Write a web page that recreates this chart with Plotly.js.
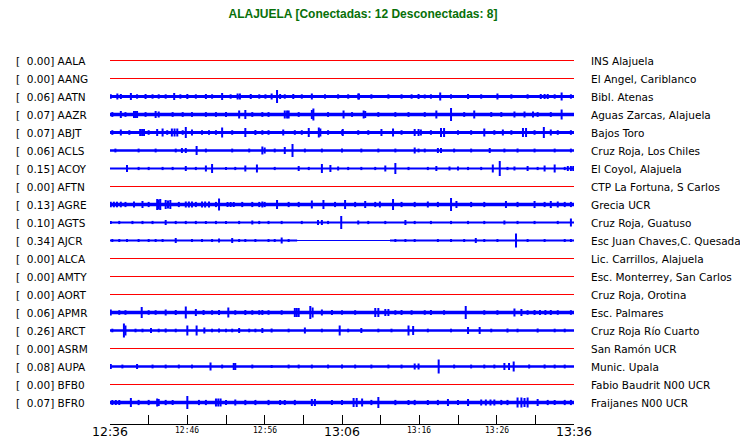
<!DOCTYPE html>
<html>
<head>
<meta charset="utf-8">
<script src="https://cdn.plot.ly/plotly-3.0.1.min.js"></script>
<style>html,body{margin:0;padding:0;background:#fff;}#chart{width:740px;height:438px;}</style>
</head>
<body>
<div id="chart"></div>
<script>
// ---- data ----
const region = "ALAJUELA";
const stations = ["AALA","AANG","AATN","AAZR","ABJT","ACLS","ACOY","AFTN","AGRE","AGTS",
                  "AJCR","ALCA","AMTY","AORT","APMR","ARCT","ASRM","AUPA","BFB0","BFR0"];
const levels = [0.00,0.00,0.06,0.07,0.07,0.06,0.15,0.00,0.13,0.10,
                0.34,0.00,0.00,0.00,0.06,0.26,0.00,0.08,0.00,0.07];
const places = ["INS Alajuela","El Angel, Cariblanco","Bibl. Atenas","Aguas Zarcas, Alajuela","Bajos Toro",
                "Cruz Roja, Los Chiles","El Coyol, Alajuela","CTP La Fortuna, S Carlos","Grecia UCR","Cruz Roja, Guatuso",
                "Esc Juan Chaves,C. Quesada","Lic. Carrillos, Alajuela","Esc. Monterrey, San Carlos","Cruz Roja, Orotina","Esc. Palmares",
                "Cruz Roja Río Cuarto","San Ramón UCR","Munic. Upala","Fabio Baudrit N00 UCR","Fraijanes N00 UCR"];
// minutes after 12:36
const tickMinutes = [0,5,10,15,20,25,30,35,40,45,50,55,60];
const majorTickMinutes = [0,30,60];
const majorTickLabels = ["12:36","13:06","13:36"];
const minorTickMinutes = [10,20,40,50];
const minorTickLabels = ["12:46","12:56","13:16","13:26"];
// background noise half-amplitude of each trace (pixels of trace gain)
const noise = [0,0,1.5,1.7,1.5,1.35,1.0,0,1.85,1.0,1.0,0,0,0,1.65,1.25,0,1.35,0,1.85];
// events: [minute, half-amplitude]
const ev_AATN = [[0.95,3],[1.4,2.5],[2.7,3.5],[4.6,2.5],[8.3,3.5],[10,2.5],[12.4,2.5],[14.5,3.5],[16.5,3],[16.8,3],[18.2,2.5],
  [20.9,3],[21.6,6.5],[22,2.5],[23.7,2.5],[26.1,3],[32.1,3],[32.2,3],[39.9,2.5],[40.7,2],[42.7,4],[46.3,2.5],[50.1,3],[55.7,2.5],[56.2,2.5],[56.6,2.5],[58.4,4],
  [0.1,2.2],[3.5,2.2],[5.5,2.2],[6.3,2.2],[7.2,2.2],[9.1,2.2],[11.1,2.2],[13.2,2.2],[15.6,2.2],[19.3,2.2],
  [20.1,2.2],[22.6,2.2],[24.8,2.2],[27.8,2.2],[29.5,2.2],[30.8,2.2],[33.8,2.2],[36,2.2],[37.7,2.2],[39,2.2],
  [41.5,2.2],[44.1,2.2],[48,2.2],[51.9,2.2],[54,2.2],[57.5,2.2],[59.6,2.2]];
const ev_AAZR = [[1.4,3.5],[3.1,3.5],[3.3,3.5],[3.5,3.5],[5.9,3.5],[6.3,3],[16.7,4],[17.5,4.5],
  [22.6,4],[22.9,4],[23.1,4],[26.1,4.5],[26.3,6],[30.2,4],[32.8,4],[33.0,3.5],[42.2,4],[44.1,6.5],[47.1,4],[52.3,3],[53.6,3],[54.7,3],[58.4,5],
  [0.3,2.4],[2.0,2.4],[4.6,2.4],[8.1,2.4],[9.4,2.4],[10.6,2.4],[12.4,2.4],[13.7,2.4],[15,2.4],[18.4,2.4],[19.7,2.4],
  [20.5,2.4],[24.4,2.4],[28.2,2.4],[31.3,2.4],[34.7,2.4],[36.9,2.4],[38.6,2.4],
  [40.7,2.4],[45.8,2.4],[49.3,2.4],[50.6,2.4],[55.3,2.4],[57,2.4]];
const ev_ABJT = [[1.4,3],[3.9,3.5],[4.15,3.5],[4.4,3.5],[6.1,3.5],[6.8,4],[8.0,4],[8.35,4],[8.7,4],[9.8,5.5],[10.6,3],[14.5,5],[17.5,4.5],[18.8,2.5],
  [22.4,3],[25.7,4.5],[27.0,5],[27.2,4],[30.1,3.5],[35.1,3.5],[36.6,4],[39.4,3.5],[39.9,3.5],
  [40.2,3],[42.8,4.5],[43.2,4.5],[48.4,4],[50.8,3],[53.4,4.5],[53.8,4.5],[56.1,5.5],[57,3],
  [0.3,2.3],[2.5,2.3],[5.0,2.3],[7.4,2.3],[9.4,2.3],[11.9,2.3],[12.8,2.3],[13.7,2.3],[15.8,2.3],[19.7,2.3],
  [20.5,2.3],[23.9,2.3],[24.8,2.3],[28.2,2.3],[30,2.3],[32.1,2.3],[33.4,2.3],[37.7,2.3],
  [41.5,2.3],[45,2.3],[46.7,2.3],[49.7,2.3],[51.9,2.3],[54.9,2.3],[57.9,2.3],[59.6,2.3]];
const ev_ACLS = [[9.3,2.5],[9.8,2.5],[11.2,4.5],[19.7,4],[20,3],[22.6,3.5],[23.6,6.5],[39.4,3],[42.4,2.5],[42.8,2.5],[49.1,2.5],[52.7,2],
  [0.7,1.9],[3.7,1.9],[5.9,1.9],[8.5,1.9],[12.4,1.9],[15.8,1.9],[18,1.9],
  [21.3,1.9],[25.2,1.9],[27.4,1.9],[30,1.9],[32.5,1.9],[34.7,1.9],[36.9,1.9],[39.9,1.9],
  [40.7,1.9],[44.5,1.9],[46.7,1.9],[51,1.9],[54.9,1.9],[57.5,1.9],[59.6,1.9]];
const ev_ACOY = [[2.2,3.5],[9.8,2.5],[12.4,3],[13.2,4.5],[17.5,3],[19,4],[24.4,2.5],[27.4,4.5],[28.5,3.5],[29.5,2],[35.6,3],[36.9,5.5],
  [42.2,2.5],[43.9,2],[45,2],[49.5,4],[50.4,7.5],[52.3,2],[54,2.5],[56.2,3],[57.5,4],[59.6,2.5],[59.2,2.5],[59.9,2.5],
  [3.7,1.6],[5,1.6],[6.8,1.6],[8.1,1.6],[11.1,1.6],[15,1.6],[16.2,1.6],
  [21.3,1.6],[25.7,1.6],[30.8,1.6],[32.5,1.6],[34.3,1.6],[38.6,1.6],
  [41.1,1.6],[46.3,1.6],[48,1.6],[51.4,1.6],[55.3,1.6],[58.8,1.6]];
const ev_AGRE = [[0.1,2.8],[0.5,2.8],[0.9,2.8],[1.4,2.8],[3.1,3],[4.2,3.5],[6.1,5.5],[6.3,5],[6.5,5.5],[7.2,4.5],[7.5,4],[7.8,4.5],[9.8,3],[10.2,3],[10.6,3],
  [11.9,3],[12.3,3],[12.8,3],[14.1,6],[15.2,2.5],[15.6,2.5],[16,2.5],[19.7,3],
  [21.6,4.5],[26.1,4],[27.6,4.5],[30.4,4.5],[33,3.5],[34.9,3],[36.6,5.5],[41.1,3],[44.1,6.5],[44.8,3.5],[51.2,3.5],[54.9,3.5],[57,3.5],[57.9,3],
  [2,2.6],[5,2.6],[8.9,2.6],[11.1,2.6],[13.7,2.6],[17.1,2.6],[18.4,2.6],[19.3,2.6],
  [20,2.6],[23.1,2.6],[24.4,2.6],[29.1,2.6],[31.7,2.6],[34.3,2.6],[37.7,2.6],[39.4,2.6],
  [42.4,2.6],[46.7,2.6],[48.4,2.6],[52.7,2.6],[56.2,2.6],[58.8,2.6],[59.6,2.6]];
const ev_AGTS = [[0.1,1.5],[7.2,2.5],[12.4,1.5],[18.4,2],[26.9,2.5],[27.4,2.5],[29.9,6.5],[32.1,2],[38.2,2.5],[51,2],[59.6,4],
  [1.2,1.6],[2.9,1.6],[4.2,1.6],[5.5,1.6],[8.5,1.6],[9.8,1.6],[11.1,1.6],[13.7,1.6],[15,1.6],[16.7,1.6],[19.3,1.6],
  [20.5,1.6],[22.2,1.6],[24.8,1.6],[28.2,1.6],[33.4,1.6],[35.6,1.6],[39.4,1.6],
  [41.5,1.6],[44.1,1.6],[46.3,1.6],[48.4,1.6],[52.7,1.6],[54.9,1.6],[57.9,1.6]];
const ev_AJCR = [[2.2,1.5],[5.9,1.5],[8.5,2.5],[14.1,2],[15.8,2.5],[18.8,1.5],[22.2,3],[47.3,2.5],[52.5,7],[58.8,1.5],
  [0.3,1.5],[1.2,1.5],[3.7,1.5],[5,1.5],[6.8,1.5],[10.6,1.5],[11.9,1.5],[13.2,1.5],[16.7,1.5],[17.5,1.5],
  [20.5,1.5],[21.3,1.5],[23.1,1.5],[36.9,1.5],[38.2,1.5],[39.4,1.5],
  [42.4,1.5],[44.1,1.5],[45.8,1.5],[48.4,1.5],[50.1,1.5],[54,1.5],[56.2,1.5],[59.6,1.5]];
const quiet_AJCR = [[24.2,36.2]];
const ev_APMR = [[0.1,3],[4.1,5.5],[7.2,3],[8.5,2.5],[9.8,6],[11.1,3.5],[12.1,2.5],[14.1,2.5],[15.3,5],[17.5,2.5],[19.7,2.5],
  [23.9,4.5],[24.15,4.5],[24.4,4.5],[25.9,6.5],[26.2,5],[27.4,3],[28.7,2.5],[34.3,4.5],[34.7,4.5],[35.6,3.5],[36,3.5],[37.7,2.5],
  [41.5,2.5],[46,6.5],[52.3,4],[53.2,3.5],[54.9,2.5],[55.6,2.5],[56.3,2.5],[57,2.5],
  [1.2,2.3],[2,2.3],[5,2.3],[5.9,2.3],[13.2,2.3],[16.2,2.3],[18.4,2.3],[19.3,2.3],
  [20.5,2.3],[22.2,2.3],[30,2.3],[31.7,2.3],[36.9,2.3],[39,2.3],
  [40.7,2.3],[43.2,2.3],[48.4,2.3],[50.1,2.3],[54,2.3],[57.9,2.3],[59.6,2.3]];
const ev_ARCT = [[1.8,7],[2.0,5],[5.3,2.5],[7.2,2],[10,5],[11.2,5],[12.2,3],[14.1,2],[16.7,2.5],[19.7,2.5],
  [20.9,2],[25.2,3],[29.7,5],[32.5,2.5],[38.6,5],[39.2,4.5],[46.3,3.5],[47.8,3.5],[51.4,2],[55.3,2],
  [0.3,1.8],[3.3,1.8],[4.2,1.8],[6.3,1.8],[8.5,1.8],[13.2,1.8],[15,1.8],[15.8,1.8],[18,1.8],[18.8,1.8],
  [23.1,1.8],[27.4,1.8],[30.8,1.8],[34.7,1.8],[36.4,1.8],
  [41.1,1.8],[44.1,1.8],[49.3,1.8],[52.7,1.8],[57.5,1.8],[58.8,1.8]];
const ev_AUPA = [[0.1,2.5],[3.5,2.5],[13,4],[16,3.5],[16.2,3.5],[20.9,1.5],[30,2],[39.4,3],[39.9,3],
  [42.5,7],[51,3.5],[51.6,3.5],[52.2,5],[54.2,2],[56.2,2],
  [1.6,1.9],[5.5,1.9],[7.2,1.9],[8.9,1.9],[10.6,1.9],[14.5,1.9],[18.4,1.9],
  [23.1,1.9],[24.4,1.9],[26.1,1.9],[28.2,1.9],[31.7,1.9],[33.8,1.9],[36,1.9],[37.7,1.9],
  [44.5,1.9],[46.7,1.9],[48.4,1.9],[49.7,1.9],[57.5,1.9],[58.8,1.9]];
const ev_BFR0 = [[0.3,2.5],[0.75,2.5],[1.2,2.5],[2.7,4.5],[6.1,4],[6.3,3.5],[8.1,2.5],[10,6.5],[13.7,4],[14.0,4],[14.3,4],[16.2,3],
  [22,2.5],[22.6,2.5],[26.1,3.5],[26.5,3.5],[28.7,2.5],[31.5,4.5],[31.9,4.5],[32.6,4],[34.7,5.5],[38.6,2.5],
  [41.1,2.5],[43.7,3.5],[46.3,3.5],[48,3],[48.6,3],[49.2,3],[49.7,3],[52.7,5],[53.2,5],[53.6,4.5],[54,5],[55.3,3.5],[57.5,2.5],
  [3.7,2.6],[5,2.6],[7.2,2.6],[11.5,2.6],[12.4,2.6],[15,2.6],[17.5,2.6],[18.8,2.6],
  [20.5,2.6],[23.9,2.6],[30,2.6],[33.8,2.6],[36.9,2.6],[39.4,2.6],
  [42.4,2.6],[45,2.6],[50.6,2.6],[51.4,2.6],[56.6,2.6],[58.8,2.6],[59.6,2.6]];
const eventsByStation = {AATN:ev_AATN,AAZR:ev_AAZR,ABJT:ev_ABJT,ACLS:ev_ACLS,ACOY:ev_ACOY,AGRE:ev_AGRE,
  AGTS:ev_AGTS,AJCR:ev_AJCR,APMR:ev_APMR,ARCT:ev_ARCT,AUPA:ev_AUPA,BFR0:ev_BFR0};
const quietByStation = {AJCR:quiet_AJCR};

// ---- drawing ----
const T0 = 0, T1 = 60;
const rowPx = 18;                 // pixels between rows
const gain = 1 / rowPx;           // trace pixel amplitude -> row units
const traces = [];
const annotations = [];
const nConnected = levels.filter(v => v > 0).length;
const nDisconnected = levels.length - nConnected;
const labelFont = {family: "DejaVu Sans", size: 10.5, color: "#000"};

stations.forEach((st, i) => {
  const y0 = -i;
  const on = levels[i] > 0;
  if (!on) {
    traces.push({type: "scatter", mode: "lines", x: [T0, T1], y: [y0, y0],
      line: {color: "#ff0000", width: 1}, hoverinfo: "skip"});
  } else {
    traces.push({type: "scatter", mode: "lines", x: [T0, T1], y: [y0, y0],
      line: {color: "#0000ff", width: 1}, hoverinfo: "skip"});
    const quiet = quietByStation[st] || [];
    let bx = [], by = [], start = T0;
    quiet.forEach(q => { bx.push(start, q[0], null); by.push(y0, y0, null); start = q[1]; });
    bx.push(start, T1); by.push(y0, y0);
    traces.push({type: "scatter", mode: "lines", x: bx, y: by,
      line: {color: "#0000ff", width: 2 * noise[i]}, hoverinfo: "skip"});
    const ev = eventsByStation[st] || [];
    const ex = [], ey = [];
    ev.forEach(e => { ex.push(e[0], e[0], null); ey.push(y0 - e[1] * gain, y0 + e[1] * gain, null); });
    traces.push({type: "scatter", mode: "lines", x: ex, y: ey,
      line: {color: "#0000ff", width: 2}, hoverinfo: "skip"});
  }
  annotations.push({xref: "paper", yref: "y", x: (15 - 110) / 464, y: y0, xanchor: "left", yanchor: "middle",
    text: "[\u00a0\u00a0" + levels[i].toFixed(2) + "]\u00a0" + st, showarrow: false, font: labelFont, borderpad: 0});
  annotations.push({xref: "paper", yref: "y", x: (590 - 110) / 464, y: y0, xanchor: "left", yanchor: "middle",
    text: places[i], showarrow: false, font: labelFont, borderpad: 0});
});

majorTickMinutes.forEach((m, k) => annotations.push({xref: "x", yref: "paper", x: m, y: -0.02, xanchor: "center", yanchor: "middle",
  text: majorTickLabels[k], showarrow: false, borderpad: 0, font: {family: "DejaVu Sans", size: 12.5, color: "#000"}}));
minorTickMinutes.forEach((m, k) => annotations.push({xref: "x", yref: "paper", x: m, y: -0.018, xanchor: "center", yanchor: "middle",
  text: minorTickLabels[k], showarrow: false, borderpad: 0, font: {family: "DejaVu Sans Mono", size: 8, color: "#000"}}));

// row i centred on pixel 60.5 + 18*i inside a plot area spanning pixels 40..424
const yTop = 20.5 / rowPx, ySpan = 384 / rowPx;
const layout = {
  width: 740, height: 438,
  margin: {l: 110, r: 166, t: 40, b: 14, pad: 0},
  paper_bgcolor: "#fff", plot_bgcolor: "#fff",
  showlegend: false,
  title: {text: region + " [Conectadas: " + nConnected + " Desconectadas: " + nDisconnected + "]",
    font: {family: "Liberation Sans Narrow, Arial Narrow, Liberation Sans", size: 12, color: "#087008", weight: "bold"},
    x: 363 / 740, xanchor: "center", xref: "container", y: 1 - 14 / 438, yanchor: "middle", yref: "container"},
  xaxis: {range: [T0, T1], showgrid: false, zeroline: false, showline: true, linecolor: "#000", linewidth: 1,
    ticks: "inside", ticklen: 9, tickwidth: 1, tickcolor: "#000", tickvals: tickMinutes, showticklabels: false, fixedrange: true},
  yaxis: {range: [yTop - ySpan, yTop], visible: false, showgrid: false, zeroline: false, fixedrange: true},
  annotations: annotations
};
Plotly.newPlot("chart", traces, layout, {staticPlot: true, displayModeBar: false});
</script>
</body>
</html>
